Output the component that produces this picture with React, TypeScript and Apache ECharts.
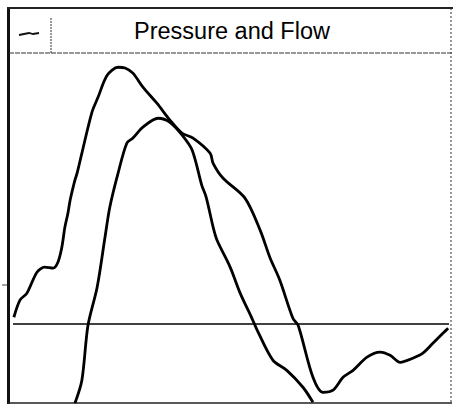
import React, { useEffect, useRef } from "react";
import * as echarts from "echarts";

// time (0..100 across the plot) and amplitude values
const pressureT = [0.2, 1.6, 3.2, 5.5, 7.3, 9.2, 10.3, 11.2, 11.9, 12.6, 13.1, 14.2, 14.7, 15.8, 18.1, 19.5, 21.6, 24.1, 25.7, 27.5, 29.8, 33.0, 36.0, 38.8, 41.3, 45.2, 45.9, 48.2, 53.2, 56.7, 58.9, 61.2, 64.2, 65.4, 68.8, 71.1, 73.4, 75.7, 78.0, 81.2, 84.2, 86.5, 88.8, 91.7, 94.0, 96.3, 98.6, 99.8];
const pressureV = [2.6, 9.0, 11.6, 19.4, 21.3, 20.9, 23.1, 28.7, 36.2, 41.4, 46.2, 53.7, 56.3, 63.8, 79.0, 84.6, 92.8, 95.8, 95.5, 93.6, 88.4, 82.4, 76.1, 71.2, 69.4, 63.8, 60.0, 54.4, 47.0, 35.0, 25.0, 16.4, 2.2, -0.4, -19.8, -25.4, -24.6, -19.8, -17.2, -12.3, -10.4, -11.6, -14.2, -12.7, -10.8, -7.1, -3.4, -1.5];

const flowT = [14.2, 15.8, 17.2, 19.3, 21.1, 22.2, 24.1, 26.1, 27.5, 29.8, 33.3, 36.0, 38.8, 41.1, 43.3, 44.3, 45.9, 46.8, 49.8, 52.1, 54.8, 56.0, 59.6, 62.8, 66.5, 68.8];
const flowV = [-29.5, -20.9, -0.4, 13.8, 32.4, 43.6, 56.3, 67.5, 69.4, 73.5, 76.8, 75.3, 70.5, 64.9, 51.8, 47.4, 36.2, 31.3, 21.3, 11.6, 2.2, -2.2, -13.4, -17.2, -23.5, -29.1];

const titleText = "Pressure and Flow";

export default function App() {
  const ref = useRef<HTMLDivElement>(null);
  useEffect(() => {
    if (!ref.current) return;
    const chart = echarts.init(ref.current, undefined, { renderer: "svg" });
    const pressure = pressureT.map((t, i) => [t, pressureV[i]]);
    const flow = flowT.map((t, i) => [t, flowV[i]]);
    chart.setOption({
      animation: false,
      backgroundColor: "#ffffff",
      grid: { left: 13, right: 7, top: 56, bottom: 4 },
      xAxis: { type: "value", min: 0, max: 100, show: false },
      yAxis: { type: "value", min: -29, max: 100, show: false },
      graphic: [
        { type: "rect", shape: { x: 7, y: 7, width: 3, height: 397 }, style: { fill: "#111" } },
        { type: "rect", shape: { x: 7, y: 7, width: 446, height: 2 }, style: { fill: "#222" } },
        { type: "line", shape: { x1: 451, y1: 8, x2: 451, y2: 404 }, style: { stroke: "#333", lineWidth: 1, lineDash: [2, 2] } },
        { type: "line", shape: { x1: 8, y1: 403, x2: 452, y2: 403 }, style: { stroke: "#222", lineWidth: 1.5 } },
        { type: "line", shape: { x1: 9, y1: 53, x2: 452, y2: 53 }, style: { stroke: "#333", lineWidth: 1, lineDash: [5, 1] } },
        { type: "line", shape: { x1: 51, y1: 18, x2: 51, y2: 53 }, style: { stroke: "#333", lineWidth: 1, lineDash: [2, 1] } },
        { type: "polyline", shape: { points: [[19, 35], [24, 34], [29, 33], [33, 34], [39, 33]] }, style: { stroke: "#111", lineWidth: 1.8, fill: null } },
        { type: "line", shape: { x1: 2, y1: 285, x2: 7, y2: 285 }, style: { stroke: "#444", lineWidth: 1 } },
        {
          type: "text",
          x: 232,
          y: 31,
          style: {
            text: titleText,
            fontFamily: "Liberation Sans, Arial, sans-serif",
            fontSize: 23.5,
            fill: "#000",
            align: "center",
            verticalAlign: "middle",
          },
        },
      ],
      series: [
        {
          name: "Pressure",
          type: "line",
          data: pressure,
          showSymbol: false,
          smooth: 0.3,
          lineStyle: { color: "#000", width: 2.8 },
          markLine: {
            silent: true,
            symbol: ["none", "none"],
            label: { show: false },
            lineStyle: { color: "#000", width: 1.5, type: "solid" },
            data: [{ yAxis: 0 }],
          },
        },
        {
          name: "Flow",
          type: "line",
          data: flow,
          showSymbol: false,
          smooth: 0.3,
          lineStyle: { color: "#000", width: 2.8 },
        },
      ],
    });
    return () => chart.dispose();
  }, []);
  return <div ref={ref} style={{ width: 456, height: 406, position: "absolute", left: 0, top: 0 }} />;
}
